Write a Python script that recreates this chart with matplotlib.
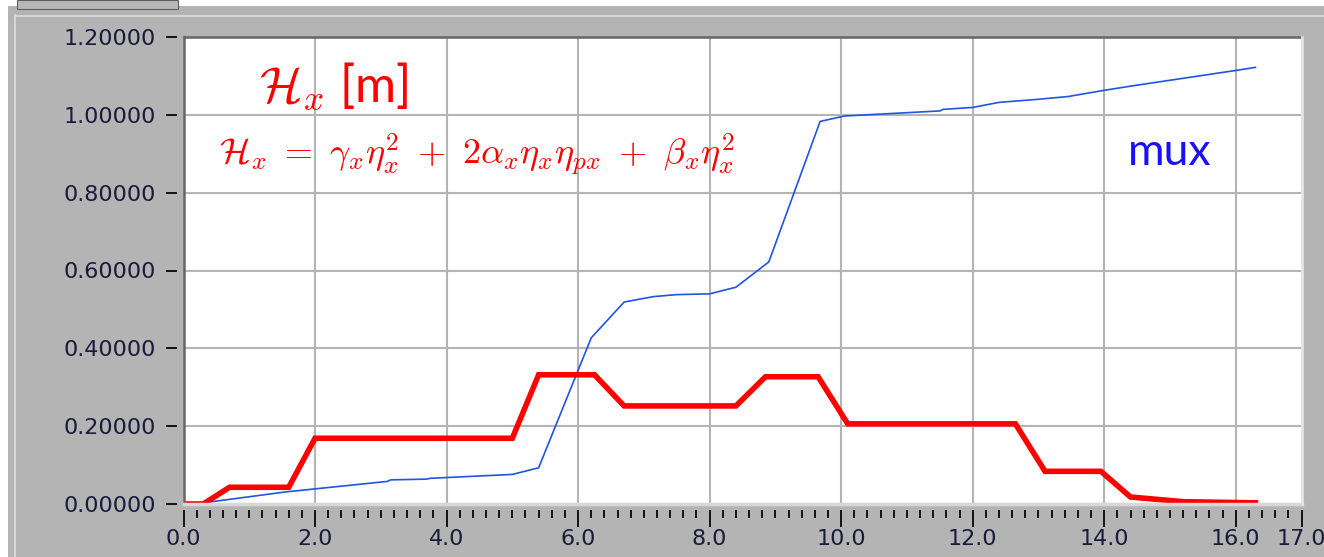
import matplotlib
matplotlib.use("Agg")
import matplotlib.pyplot as plt
from matplotlib.patches import Rectangle
from matplotlib.lines import Line2D

# Data
hx_s = [0.0, 0.3, 0.7, 1.6, 2.0, 5.0, 5.4, 6.25, 6.7, 8.4, 8.85, 9.65, 10.1,
        12.65, 13.1, 13.95, 14.4, 15.2, 16.3]
hx = [0.0, 0.0, 0.043, 0.043, 0.169, 0.169, 0.332, 0.332, 0.252, 0.252, 0.327,
      0.327, 0.206, 0.206, 0.084, 0.084, 0.018, 0.006, 0.003]

mux_s = [0.0, 0.3, 1.55, 3.1, 3.15, 3.7, 3.75, 5.0, 5.4, 6.2, 6.7, 7.15, 7.5,
         8.0, 8.4, 8.9, 9.68, 10.05, 11.5, 11.55, 12.0, 12.4, 13.0, 13.45,
         14.0, 14.45, 16.0, 16.3]
mux = [0.0, 0.003, 0.031, 0.058, 0.062, 0.064, 0.066, 0.076, 0.093, 0.427,
       0.519, 0.533, 0.538, 0.540, 0.557, 0.622, 0.983, 0.997, 1.010, 1.014,
       1.019, 1.032, 1.040, 1.047, 1.063, 1.075, 1.114, 1.122]

x_major = [0, 2, 4, 6, 8, 10, 12, 14, 16, 17]
x_labels = ["0.0", "2.0", "4.0", "6.0", "8.0", "10.0", "12.0", "14.0", "16.0", "17.0"]
y_major = [0.0, 0.2, 0.4, 0.6, 0.8, 1.0, 1.2]

plt.rcParams['mathtext.fontset'] = 'cm'

W, H = 1324, 557
fig = plt.figure(figsize=(W / 100, H / 100), dpi=100)
fig.patch.set_facecolor('white')

# window-like gray background
fig.add_artist(Rectangle((8 / W, 0), 1, 1 - 6 / H, transform=fig.transFigure,
                         facecolor='#b4b4b4', edgecolor='none', zorder=-10))
fig.add_artist(Line2D([15 / W, 15 / W], [0, 1 - 15 / H], transform=fig.transFigure,
                      color='#dedede', lw=1.2, zorder=-9))
fig.add_artist(Line2D([15 / W, 1], [1 - 15.5 / H, 1 - 15.5 / H], transform=fig.transFigure,
                      color='#dedede', lw=1.2, zorder=-9))
# small widget at top left
fig.add_artist(Rectangle((17 / W, 1 - 9 / H), 161 / W, 9 / H, transform=fig.transFigure,
                         facecolor='#b8b8b8', edgecolor='#606060', lw=0.8, zorder=-8))

ax = fig.add_axes([183.5 / W, 1 - 504 / H, 1118 / W, 467 / H])
ax.set_facecolor('white')
ax.set_xlim(0, 17)
ax.set_ylim(0, 1.2)

ax.grid(True, color='#b4b4b4', lw=1.5)
ax.set_axisbelow(True)

ax.plot(mux_s, mux, color='#1f55e0', lw=1.2, zorder=3)
ax.plot(hx_s, hx, color='#ff0000', lw=4.0, zorder=4, solid_joinstyle='miter')

for s in ax.spines.values():
    s.set_visible(False)
ax.spines['bottom'].set_position(('outward', 4))
ax.spines['left'].set_position(('outward', 5))

# frame of the plot area
ax.plot([0, 0], [0, 1], transform=ax.transAxes, color='#666666', lw=1.8, clip_on=False, zorder=5)
ax.plot([0, 1], [1, 1], transform=ax.transAxes, color='#666666', lw=1.8, clip_on=False, zorder=5)
ax.plot([0, 1], [0, 0], transform=ax.transAxes, color='#d8d8d8', lw=2.5, clip_on=False, zorder=5)
ax.plot([1, 1], [0, 1], transform=ax.transAxes, color='#e4e4e4', lw=2.0, clip_on=False, zorder=5)

ax.set_xticks(x_major)
ax.set_xticklabels(x_labels)
ax.set_xticks([i * 0.2 for i in range(86)], minor=True)
ax.set_yticks(y_major)
ax.set_yticklabels([f"{v:.5f}" for v in y_major])
ax.xaxis.grid(True, which='minor', lw=0)
ax.xaxis.grid(True, which='major')

ax.tick_params(axis='x', which='major', length=12, width=1.4, color='#111111',
               labelsize=16, labelcolor='#1a1a3a', pad=2, direction='out')
ax.tick_params(axis='x', which='minor', length=6, width=1.4, color='#111111', direction='out')
ax.tick_params(axis='y', which='major', length=8, width=1.4, color='#111111',
               labelsize=16, labelcolor='#1a1a3a', pad=7, direction='out')
ax.tick_params(axis='y', which='minor', length=0)
# no gridline on the 17.0 edge
ax.get_xgridlines()[-1].set_visible(False)

# annotations
fig.text(334 / W, 1 - 86 / H, r'$\mathcal{H}_x$ [m]', color='#ff0000', fontsize=36,
         ha='center', va='center', family='Lato')
fig.text(477 / W, 1 - 155 / H,
         r'$\mathcal{H}_x\ =\ \gamma_x\eta_x^2\ +\ 2\alpha_x\eta_x\eta_{px}\ +\ \beta_x\eta_x^2$',
         color='#ff0000', fontsize=26, ha='center', va='center')
fig.text(1170 / W, 1 - 152 / H, 'mux', color='#1a10ff', fontsize=32,
         ha='center', va='center', family='Lato')

fig.savefig('out.png', dpi=100)
